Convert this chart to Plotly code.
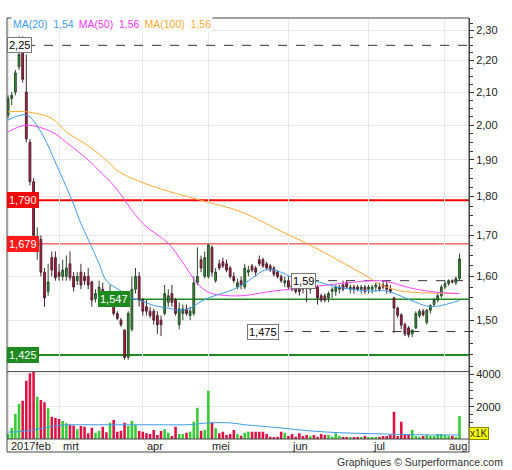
import numpy as np
import pandas as pd
import plotly.graph_objects as go

# ---------------- data ----------------
holidays = ["2017-04-14", "2017-04-17", "2017-05-01"]
dates = [d.strftime("%Y-%m-%d") for d in pd.bdate_range("2017-02-09", "2017-08-07")
         if d.strftime("%Y-%m-%d") not in holidays]

ohlc = [
    (2.03, 2.09, 2.02, 2.08), (2.08, 2.10, 2.06, 2.09), (2.10, 2.17, 2.09, 2.16), (2.18, 2.28, 2.17, 2.22),
    (2.25, 2.28, 2.13, 2.14), (2.10, 2.22, 1.95, 1.96), (1.95, 1.96, 1.83, 1.84), (1.84, 1.85, 1.66, 1.70),
    (1.66, 1.72, 1.64, 1.68), (1.69, 1.70, 1.60, 1.61), (1.61, 1.62, 1.53, 1.55), (1.565, 1.63, 1.555, 1.587),
    (1.645, 1.66, 1.60, 1.615), (1.645, 1.66, 1.59, 1.597), (1.61, 1.63, 1.59, 1.60), (1.60, 1.64, 1.59, 1.615),
    (1.60, 1.65, 1.59, 1.62), (1.63, 1.66, 1.59, 1.597), (1.60, 1.61, 1.565, 1.575), (1.59, 1.61, 1.58, 1.60),
    (1.61, 1.63, 1.57, 1.58), (1.60, 1.61, 1.58, 1.59), (1.60, 1.62, 1.57, 1.58), (1.587, 1.59, 1.53, 1.545),
    (1.548, 1.57, 1.54, 1.56), (1.56, 1.59, 1.55, 1.575), (1.57, 1.585, 1.545, 1.55), (1.55, 1.56, 1.535, 1.545),
    (1.545, 1.58, 1.54, 1.55), (1.54, 1.545, 1.51, 1.515), (1.515, 1.52, 1.50, 1.504), (1.50, 1.505, 1.485, 1.49),
    (1.478, 1.48, 1.415, 1.42), (1.42, 1.52, 1.415, 1.515), (1.48, 1.60, 1.475, 1.57), (1.57, 1.62, 1.56, 1.60),
    (1.60, 1.61, 1.53, 1.545), (1.545, 1.55, 1.51, 1.52), (1.53, 1.545, 1.51, 1.52), (1.52, 1.53, 1.505, 1.51),
    (1.52, 1.525, 1.49, 1.50), (1.51, 1.52, 1.47, 1.49), (1.50, 1.51, 1.465, 1.49), (1.515, 1.58, 1.51, 1.56),
    (1.54, 1.57, 1.53, 1.555), (1.56, 1.58, 1.53, 1.54), (1.545, 1.55, 1.51, 1.515), (1.49, 1.54, 1.48, 1.525),
    (1.515, 1.535, 1.50, 1.525), (1.525, 1.535, 1.51, 1.515), (1.51, 1.53, 1.50, 1.52), (1.515, 1.60, 1.51, 1.585),
    (1.585, 1.67, 1.58, 1.60), (1.64, 1.65, 1.61, 1.62), (1.60, 1.66, 1.595, 1.645), (1.60, 1.68, 1.595, 1.676),
    (1.67, 1.675, 1.60, 1.61), (1.59, 1.62, 1.585, 1.61), (1.63, 1.64, 1.615, 1.62), (1.635, 1.645, 1.62, 1.625),
    (1.63, 1.64, 1.61, 1.615), (1.62, 1.625, 1.595, 1.60), (1.60, 1.61, 1.585, 1.59), (1.575, 1.595, 1.57, 1.585),
    (1.59, 1.60, 1.57, 1.58), (1.575, 1.63, 1.57, 1.62), (1.61, 1.625, 1.60, 1.615), (1.625, 1.63, 1.61, 1.615),
    (1.62, 1.625, 1.60, 1.61), (1.64, 1.65, 1.625, 1.63), (1.64, 1.645, 1.62, 1.625), (1.63, 1.635, 1.615, 1.62),
    (1.625, 1.63, 1.61, 1.615), (1.62, 1.625, 1.60, 1.605), (1.61, 1.615, 1.595, 1.60), (1.60, 1.605, 1.585, 1.59),
    (1.585, 1.60, 1.575, 1.59), (1.59, 1.60, 1.57, 1.575), (1.58, 1.59, 1.565, 1.57), (1.575, 1.58, 1.56, 1.565),
    (1.57, 1.58, 1.555, 1.565), (1.575, 1.585, 1.56, 1.57), (1.585, 1.60, 1.54, 1.58), (1.57, 1.59, 1.56, 1.585),
    (1.59, 1.595, 1.58, 1.585), (1.575, 1.58, 1.535, 1.55), (1.555, 1.56, 1.54, 1.545), (1.555, 1.56, 1.54, 1.545),
    (1.55, 1.565, 1.54, 1.56), (1.565, 1.575, 1.55, 1.57), (1.565, 1.58, 1.555, 1.575), (1.57, 1.58, 1.56, 1.575),
    (1.58, 1.59, 1.565, 1.57), (1.585, 1.59, 1.57, 1.575), (1.57, 1.58, 1.56, 1.575), (1.575, 1.58, 1.56, 1.57),
    (1.575, 1.58, 1.565, 1.57), (1.57, 1.58, 1.56, 1.575), (1.575, 1.58, 1.56, 1.565), (1.57, 1.58, 1.56, 1.575),
    (1.57, 1.58, 1.56, 1.575), (1.575, 1.585, 1.565, 1.58), (1.575, 1.585, 1.565, 1.57), (1.58, 1.59, 1.57, 1.575),
    (1.58, 1.59, 1.56, 1.57), (1.57, 1.58, 1.56, 1.565),
    (1.55, 1.553, 1.472, 1.527), (1.527, 1.53, 1.505, 1.511), (1.512, 1.515, 1.48, 1.489), (1.49, 1.495, 1.465, 1.47),
    (1.483, 1.487, 1.462, 1.468), (1.47, 1.48, 1.463, 1.478), (1.483, 1.52, 1.48, 1.515), (1.51, 1.525, 1.505, 1.52),
    (1.52, 1.525, 1.508, 1.512), (1.495, 1.525, 1.49, 1.522), (1.522, 1.535, 1.515, 1.533), (1.535, 1.55, 1.53, 1.545),
    (1.545, 1.56, 1.54, 1.555), (1.555, 1.58, 1.55, 1.575), (1.575, 1.59, 1.57, 1.583), (1.583, 1.593, 1.578, 1.59),
    (1.59, 1.593, 1.583, 1.587), (1.585, 1.60, 1.58, 1.595), (1.595, 1.655, 1.59, 1.642),
]
open_ = [r[0] for r in ohlc]
high = [r[1] for r in ohlc]
low = [r[2] for r in ohlc]
close = [r[3] for r in ohlc]

volume = [310, 680, 1550, 2170, 2370, 3610, 4060, 4170, 2620, 2410, 2270, 1900, 1380, 1300, 1240, 1110,
          970, 870, 830, 600, 800, 760, 350, 700, 390, 510, 760, 410, 1010, 1180, 450, 510,
          1010, 800, 1110, 870, 490, 450, 350, 310, 560, 250, 490, 600, 390, 190, 760, 310,
          310, 390, 450, 1070, 1940, 510, 560, 2990, 1030, 660, 350, 450, 250, 310, 560, 310,
          200, 390, 450, 450, 450, 450, 450, 310, 140, 120, 140, 450, 390, 190, 310, 140,
          350, 190, 250, 190, 250, 140, 310, 250, 250, 140, 350, 190, 120, 120, 120, 120,
          120, 120, 190, 120, 120, 120, 120, 190, 190, 250, 1690, 190, 1070, 250, 250, 560,
          190, 140, 190, 250, 190, 190, 310, 310, 250, 190, 190, 120, 1420]

ma20_idx = [0, 5, 9, 14, 18, 20, 22, 25, 27, 31, 34, 36, 40, 44, 47, 50, 53, 56, 62, 66, 71, 75, 78,
            84, 89, 94, 100, 104, 108, 112, 116, 119, 124]
ma20_val = [2.015, 2.03, 1.98, 1.87, 1.78, 1.73, 1.69, 1.63, 1.59, 1.566, 1.549, 1.545, 1.533, 1.527,
            1.522, 1.527, 1.542, 1.553, 1.57, 1.59, 1.616, 1.61, 1.598, 1.59, 1.578, 1.57, 1.566, 1.566,
            1.554, 1.54, 1.53, 1.533, 1.544]
ma50_idx = [0, 5, 12, 16, 22, 25, 29, 37, 44, 48, 52, 55, 58, 64, 73, 82, 91, 100, 104, 110, 115, 119, 124]
ma50_val = [1.98, 2.00, 1.98, 1.95, 1.90, 1.87, 1.83, 1.73, 1.68, 1.633, 1.583, 1.563, 1.557, 1.555,
            1.566, 1.574, 1.583, 1.59, 1.588, 1.574, 1.566, 1.562, 1.56]
ma100_idx = [0, 5, 12, 16, 22, 28, 30, 39, 53, 64, 75, 82, 91, 99, 103, 108, 113, 119, 124]
ma100_val = [2.04, 2.04, 2.02, 1.98, 1.94, 1.89, 1.87, 1.83, 1.79, 1.76, 1.71, 1.68, 1.637, 1.598,
             1.578, 1.566, 1.562, 1.561, 1.56]
volma_idx = [0, 3, 8, 12, 15, 20, 30, 40, 50, 53, 56, 61, 65, 68, 75, 83, 91, 100, 108, 116, 124]
volma_val = [430, 450, 600, 780, 870, 880, 880, 880, 890, 960, 1000, 1000, 880, 820, 680, 500, 390,
             330, 280, 250, 250]

month_labels = ["2017feb", "mrt", "apr", "mei", "jun", "jul", "aug"]
price_ticks = [1.50, 1.60, 1.70, 1.80, 1.90, 2.00, 2.10, 2.20, 2.30]
vol_ticks = [2000, 4000]

high_level = (2.25, "2,25", 0)
res1 = (1.790, "1,790")
res2 = (1.679, "1,679")
sup1 = (1.547, "1,547", 25)
sup2 = (1.425, "1,425")
lvl_a = (1.59, "1,59", 78)
lvl_b = (1.475, "1,475", 66)
legend_items = [("MA(20)", "1,54", "#3d9be9"), ("MA(50)", "1,56", "#ff33ff"), ("MA(100)", "1,56", "#ffaa33")]

# ---------------- figure ----------------
n = len(dates)
idx = list(range(n))
XR = [-0.3, 126.6]
FONT = "Liberation Sans"

month_idx = []
for k in range(n):
    if k == 0 or dates[k][5:7] != dates[k - 1][5:7]:
        month_idx.append(k)

up = [c >= o for o, c in zip(open_, close)]
vol_colors = ["#33cc33" if u else "#dd1144" for u in up]

fig = go.Figure()
fig.add_trace(go.Candlestick(
    x=idx, open=open_, high=high, low=low, close=close,
    increasing=dict(line=dict(color="#2b4a2b", width=1), fillcolor="#2e9a2e"),
    decreasing=dict(line=dict(color="#4a2430", width=1), fillcolor="#c8143c"),
    whiskerwidth=0, xaxis="x", yaxis="y", showlegend=False, hoverinfo="skip"))
fig.add_trace(go.Scatter(x=ma100_idx, y=ma100_val, mode="lines", line=dict(color="#ffaa33", width=1, shape="spline"),
                         xaxis="x", yaxis="y", showlegend=False))
fig.add_trace(go.Scatter(x=ma50_idx, y=ma50_val, mode="lines", line=dict(color="#ff44ff", width=1, shape="spline"),
                         xaxis="x", yaxis="y", showlegend=False))
fig.add_trace(go.Scatter(x=ma20_idx, y=ma20_val, mode="lines", line=dict(color="#3d9be9", width=1, shape="spline"),
                         xaxis="x", yaxis="y", showlegend=False))
fig.add_trace(go.Bar(x=idx, y=volume, marker=dict(color=vol_colors, line=dict(width=0)),
                     xaxis="x2", yaxis="y2", showlegend=False))
fig.add_trace(go.Scatter(x=volma_idx, y=volma_val, mode="lines", line=dict(color="#3d9be9", width=1, shape="spline"),
                         xaxis="x2", yaxis="y2", showlegend=False))

shapes = []
annos = []
def hline(val, x0, color, width, dash="solid", xref="x"):
    shapes.append(dict(type="line", xref=xref, yref="y", x0=x0, x1=XR[1] if xref == "x" else 1,
                       y0=val, y1=val, line=dict(color=color, width=width, dash=dash), layer="between"))

def label(val, text, xpos, bg, fg, border, xref="x"):
    annos.append(dict(x=xpos, xref=xref, y=np.log10(val), yref="y", text=text, showarrow=False,
                      xanchor="left", yanchor="middle", bgcolor=bg, bordercolor=border, borderwidth=1,
                      borderpad=1, font=dict(family=FONT, size=11, color=fg)))

hline(high_level[0], high_level[2], "#333333", 1, "dash")
label(high_level[0], high_level[1], 0, "#ffffff", "#000000", "#777777", xref="paper")
hline(res1[0], 0, "#ff0000", 2, xref="paper")
label(res1[0], res1[1], 0, "#ff0000", "#ffffff", "#ff0000", xref="paper")
hline(res2[0], 0, "#ff6a6a", 1.5, xref="paper")
label(res2[0], res2[1], 0, "#ff1a1a", "#ffffff", "#ff1a1a", xref="paper")
hline(sup1[0], sup1[2], "#1f8a1f", 1.5)
label(sup1[0], sup1[1], sup1[2] - 0.3, "#1f8a1f", "#ffffff", "#1f8a1f")
hline(sup2[0], 0, "#1f8a1f", 2, xref="paper")
label(sup2[0], sup2[1], 0, "#1f8a1f", "#ffffff", "#1f8a1f", xref="paper")
hline(lvl_a[0], lvl_a[2], "#333333", 1, "dash")
label(lvl_a[0], lvl_a[1], lvl_a[2] - 0.3, "#ffffff", "#000000", "#777777")
hline(lvl_b[0], lvl_b[2], "#333333", 1, "dash")
label(lvl_b[0], lvl_b[1], lvl_b[2] - 0.3, "#ffffff", "#000000", "#777777")

sp = "\u00a0"
leg = (sp + "\u2009").join(f"<span style='color:{c}'>{a}{sp*2}{v}</span>" for a, v, c in legend_items)
annos.append(dict(x=0.008, xref="paper", y=0.985, yref="paper", text=leg, showarrow=False,
                  xanchor="left", yanchor="middle", bgcolor="#ffffff", font=dict(family=FONT, size=10.5)))

for k, lab in zip(month_idx, month_labels):
    annos.append(dict(x=k if k > 0 else XR[0], xref="x", y=-0.0155, yref="paper", text=lab, showarrow=False,
                      xanchor="left", yanchor="middle", xshift=2, font=dict(family=FONT, size=11, color="#222222")))

annos.append(dict(x=1.0, xref="paper", y=0.0119, yref="paper", text="x1K", showarrow=False, xanchor="left",
                  yanchor="middle", bgcolor="#ffff00", bordercolor="#888800", borderwidth=1, borderpad=0,
                  font=dict(family=FONT, size=10, color="#333333")))
annos.append(dict(x=1.078, xref="paper", y=-0.0546, yref="paper", text="Graphiques © Surperformance.com",
                  showarrow=False, xanchor="right", yanchor="middle", font=dict(family=FONT, size=10.5, color="#333333")))

shapes.append(dict(type="rect", xref="paper", yref="paper", x0=0, x1=1, y0=-0.0309, y1=1,
                   line=dict(color="#444444", width=1), layer="above"))
shapes.append(dict(type="line", xref="paper", yref="paper", x0=0, x1=1, y0=0.16, y1=0.16,
                   line=dict(color="#444444", width=1), layer="above"))
shapes.append(dict(type="line", xref="paper", yref="paper", x0=0, x1=1, y0=0, y1=0,
                   line=dict(color="#444444", width=1), layer="above"))

price_minor = [round(1.40 + 0.025 * k, 3) for k in range(40) if round(1.40 + 0.025 * k, 3) <= 2.34]
fig.update_layout(
    width=512, height=470, margin=dict(l=7, r=43, t=18, b=31),
    paper_bgcolor="#ffffff", plot_bgcolor="#ffffff",
    font=dict(family=FONT, size=11, color="#222222"),
    showlegend=False, bargap=0.3, hovermode=False,
    xaxis=dict(domain=[0, 1], range=XR, anchor="y", tickvals=month_idx, showticklabels=False, ticks="",
               showgrid=True, gridcolor="#e8e8e8", gridwidth=1, zeroline=False, rangeslider=dict(visible=False),
               fixedrange=True),
    xaxis2=dict(domain=[0, 1], range=XR, anchor="y2", tickvals=month_idx, showticklabels=False, ticks="",
                showgrid=True, gridcolor="#e8e8e8", zeroline=False, matches="x"),
    yaxis=dict(domain=[0.16, 1], type="log", range=[0.1431, 0.3697], side="right", anchor="x",
               tickvals=price_ticks, ticktext=[f"{v:.2f}".replace(".", ",") for v in price_ticks],
               ticks="outside", ticklen=4, tickcolor="#333333", showgrid=True, gridcolor="#e8e8e8",
               showline=True, linecolor="#444444", zeroline=False,
               minor=dict(tickvals=price_minor, ticks="outside", ticklen=3, tickcolor="#333333", showgrid=False),
               tickfont=dict(family=FONT, size=11, color="#222222")),
    yaxis2=dict(domain=[0, 0.16], range=[0, 4167], side="right", anchor="x2",
                tickvals=vol_ticks, ticktext=[str(v) for v in vol_ticks],
                ticks="outside", ticklen=4, tickcolor="#333333", showgrid=True, gridcolor="#e8e8e8",
                showline=True, linecolor="#444444", zeroline=False,
                minor=dict(tickvals=[500, 1000, 1500, 2500, 3000, 3500], ticks="outside", ticklen=3,
                           tickcolor="#333333", showgrid=False),
                tickfont=dict(family=FONT, size=11, color="#222222")),
    shapes=shapes, annotations=annos,
)
fig.write_html("out.html", config={"displayModeBar": False, "staticPlot": True},
               post_script="document.body.style.margin='0';document.body.style.padding='0';")
